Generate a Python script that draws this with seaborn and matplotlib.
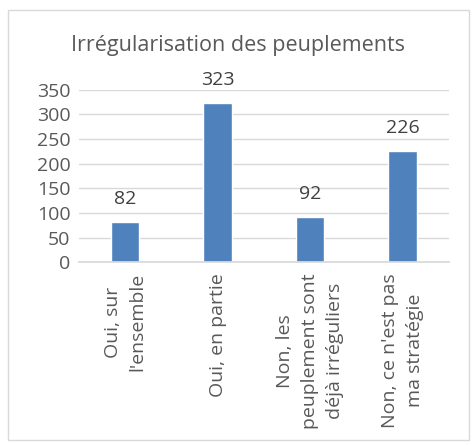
import matplotlib
matplotlib.use("Agg")
import matplotlib.pyplot as plt
import seaborn as sns
import pandas as pd
from matplotlib.patches import Rectangle

# chart data
categories = ["Oui, sur\nl'ensemble", "Oui, en partie",
              "Non, les\npeuplement sont\ndéjà irréguliers",
              "Non, ce n'est pas\nma stratégie"]
counts = [82, 323, 92, 226]
title = "Irrégularisation des peuplements"
y_ticks = [0, 50, 100, 150, 200, 250, 300, 350]

sns.set_theme(style="white")
plt.rcParams['font.family'] = ['Open Sans', 'DejaVu Sans']

txt = "#595959"
fig = plt.figure(figsize=(4.72, 4.45), dpi=100)
ax = fig.add_axes([0.167, 0.411, 0.784, 0.387])

df = pd.DataFrame({"cat": categories, "n": counts})
sns.barplot(data=df, x="cat", y="n", color="#4F81BD", saturation=1,
            width=0.31, ax=ax)

ax.set_ylim(0, 350)
ax.set_yticks(y_ticks)
ax.yaxis.grid(True, color="#D9D9D9", linewidth=1)
ax.set_axisbelow(True)
for s in ["top", "right", "left"]:
    ax.spines[s].set_visible(False)
ax.spines["bottom"].set_color("#D9D9D9")
ax.set_xlabel("")
ax.set_ylabel("")
ax.tick_params(axis="both", length=0, labelsize=14, colors=txt, pad=6)
ax.tick_params(axis="x", pad=8)
for lab in ax.get_xticklabels():
    lab.set_rotation(90)
    lab.set_multialignment("center")
    lab.set_linespacing(1.5)

for c in ax.containers:
    ax.bar_label(c, labels=[str(v) for v in counts], padding=10,
                 fontsize=14, color="#404040")

fig.text(0.505, 0.898, title, ha="center", va="center", fontsize=15.5, color=txt)

fig.patches.append(Rectangle((0.016, 0.011), 0.978, 0.966, transform=fig.transFigure,
                             fill=False, edgecolor="#D9D9D9", linewidth=1))

fig.savefig("out.png", dpi=100)
